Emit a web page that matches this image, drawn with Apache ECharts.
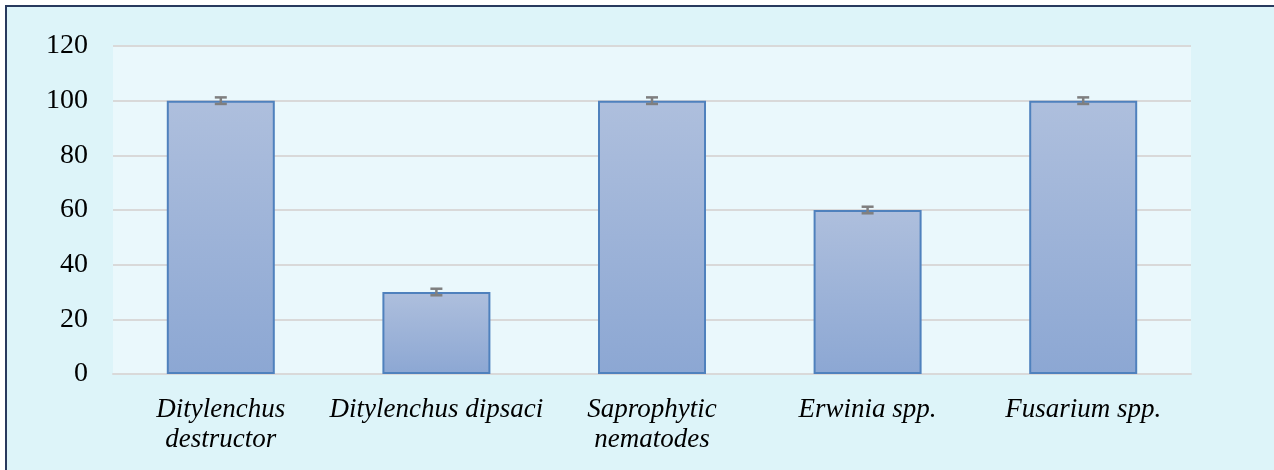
<!DOCTYPE html>
<html>
<head>
<meta charset="utf-8">
<script src="https://cdn.jsdelivr.net/npm/echarts@6/dist/echarts.min.js"></script>
<style>
html,body{margin:0;padding:0;background:#ffffff;width:1274px;height:470px;overflow:hidden;}
#frame{position:absolute;left:5px;top:5px;width:1269px;height:465px;border-left:2px solid #283a5e;border-top:2px solid #283a5e;background:#ddf4f9;box-sizing:border-box;}
#chart{position:absolute;left:0;top:0;width:1267px;height:463px;}
</style>
</head>
<body>
<div id="frame"><div id="chart"></div></div>
<script>
const categories = ["Ditylenchus\ndestructor", "Ditylenchus dipsaci", "Saprophytic\nnematodes", "Erwinia spp.", "Fusarium spp."];
const values = [100, 30, 100, 60, 100];
const errors = [1.2, 1.2, 1.2, 1.2, 1.2];
const yTicks = [0, 20, 40, 60, 80, 100, 120];

const chart = echarts.init(document.getElementById('chart'), null, {renderer: 'canvas'});
const errData = values.map((v, i) => [i, v - errors[i], v + errors[i]]);

chart.setOption({
  animation: false,
  backgroundColor: 'transparent',
  grid: {
    left: 106, right: 83, top: 39, bottom: 96,
    show: true, backgroundColor: '#eaf8fc', borderWidth: 0
  },
  xAxis: {
    type: 'category',
    data: categories,
    axisTick: {show: false},
    axisLine: {show: true, lineStyle: {color: '#d9d9d9', width: 2}},
    axisLabel: {
      interval: 0, margin: 21,
      fontFamily: 'Liberation Serif', fontStyle: 'italic', fontSize: 27,
      lineHeight: 30, color: '#000000'
    }
  },
  yAxis: {
    type: 'value',
    min: yTicks[0], max: yTicks[yTicks.length - 1], interval: 20,
    axisLine: {show: false},
    axisTick: {show: false},
    splitLine: {lineStyle: {color: '#d9d9d9', width: 2}},
    axisLabel: {
      margin: 25, fontFamily: 'Liberation Serif', fontSize: 28, color: '#000000',
      padding: [5, 0, 0, 0]
    }
  },
  series: [
    {
      type: 'bar',
      data: values,
      barWidth: 108,
      itemStyle: {
        color: new echarts.graphic.LinearGradient(0, 0, 0, 1, [
          {offset: 0, color: '#aebfdd'},
          {offset: 1, color: '#8ca7d3'}
        ]),
        borderColor: '#4f81bd',
        borderWidth: 2
      },
      z: 2
    },
    {
      type: 'custom',
      data: errData,
      z: 5,
      renderItem: function (params, api) {
        const x = api.value(0);
        const lo = api.coord([x, api.value(1)]);
        const hi = api.coord([x, api.value(2)]);
        const hw = 6;
        const style = {stroke: '#7f7f7f', lineWidth: 2.5};
        return {
          type: 'group',
          children: [
            {type: 'line', shape: {x1: lo[0], y1: lo[1], x2: hi[0], y2: hi[1]}, style: style},
            {type: 'line', shape: {x1: lo[0] - hw, y1: lo[1], x2: lo[0] + hw, y2: lo[1]}, style: style},
            {type: 'line', shape: {x1: hi[0] - hw, y1: hi[1], x2: hi[0] + hw, y2: hi[1]}, style: style}
          ]
        };
      }
    }
  ]
});
</script>
</body>
</html>
